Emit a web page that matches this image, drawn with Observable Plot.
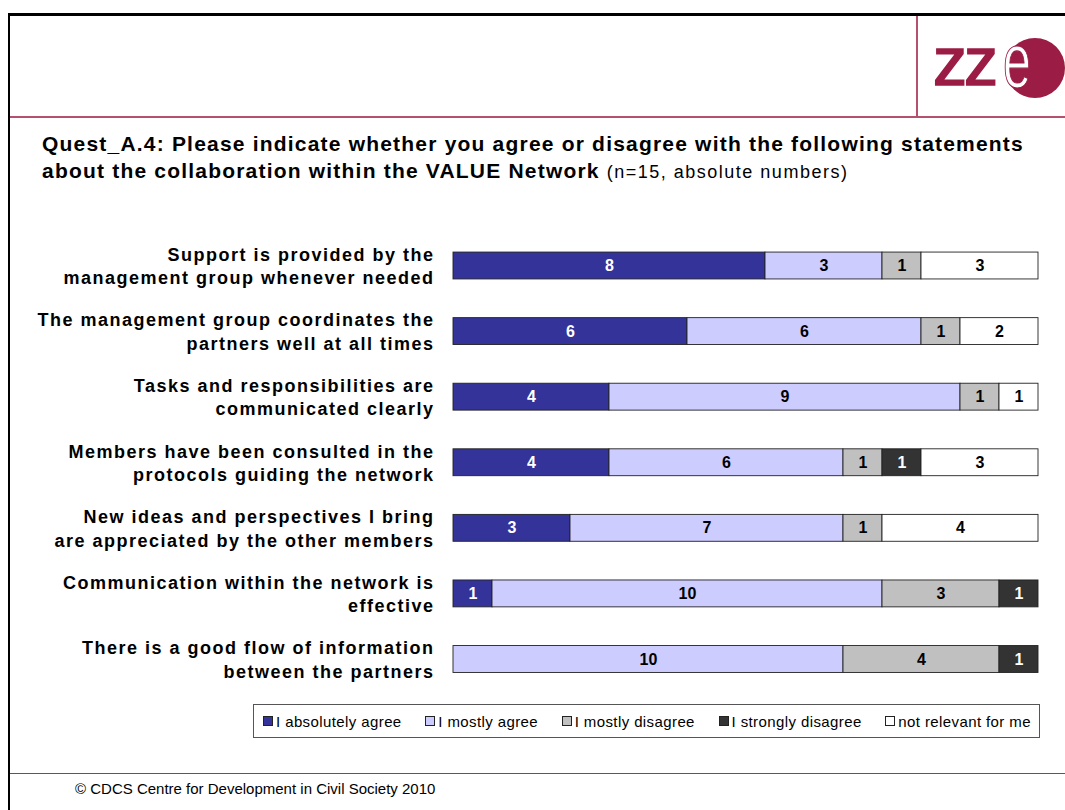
<!DOCTYPE html>
<html>
<head>
<meta charset="utf-8">
<script src="https://cdn.jsdelivr.net/npm/d3@7"></script>
<script src="https://cdn.jsdelivr.net/npm/@observablehq/plot@0.6"></script>
<style>
  html, body { margin: 0; padding: 0; background: #fff; }
  body { width: 1065px; height: 810px; position: relative; overflow: hidden; font-family: "Liberation Sans", Arial, sans-serif; color: #000; }
  .abs { position: absolute; }
  #title { left: 42px; top: 130px; font-size: 21px; letter-spacing: 1.2px; font-weight: bold; line-height: 27px; white-space: nowrap; }
  #title .sub { font-weight: normal; font-size: 18px; letter-spacing: 1.5px; }
  #chart { left: 0; top: 230px; }
  #chart svg g[aria-label="y-axis tick label"] text { letter-spacing: 1.5px; }
  #legend { left: 253px; top: 704px; width: 787px; height: 34px; border: 1px solid #555; box-sizing: border-box; display: flex; align-items: center; justify-content: space-between; padding: 0 8px 0 9px; font-size: 15px; letter-spacing: 0.4px; }
  #legend .item { display: flex; align-items: center; white-space: nowrap; }
  #legend .sw { width: 8px; height: 8px; border: 1px solid #222; margin-right: 3px; }
  #footer { left: 75px; top: 780px; font-size: 15px; }
</style>
</head>
<body>
<!-- frame -->
<div class="abs" style="left:8px;top:13px;width:1057px;height:3px;background:#000"></div>
<div class="abs" style="left:8px;top:13px;width:2px;height:797px;background:#000"></div>
<div class="abs" style="left:10px;top:116px;width:1055px;height:2px;background:#b5516f"></div>
<div class="abs" style="left:916px;top:16px;width:2px;height:101px;background:#b5516f"></div>
<div class="abs" style="left:10px;top:773px;width:1055px;height:1px;background:#a8324f"></div>
<!-- logo -->
<svg class="abs" style="left:920px;top:18px" width="145" height="96" viewBox="920 18 145 96">
  <circle cx="1035" cy="68" r="30" fill="#9b1c45"></circle>
  <text x="933" y="85" font-family="Liberation Sans, Arial" font-size="68" fill="#9b1c45" stroke="#9b1c45" stroke-width="1.6" letter-spacing="-3">zz</text>
  <g transform="translate(1003,87) scale(0.66,1)">
    <text x="0" y="0" font-family="Liberation Sans, Arial" font-size="76" fill="#fff" stroke="#9b1c45" stroke-width="1.2">e</text>
  </g>
</svg>

<div id="title" class="abs">Quest_A.4: Please indicate whether you agree or disagree with the following statements<br>about the collaboration within the VALUE Network <span class="sub">(n=15, absolute numbers)</span></div>
<div id="chart" class="abs"></div>
<div id="legend" class="abs"></div>
<div id="footer" class="abs">© CDCS Centre for Development in Civil Society 2010</div>

<script>
const statements = [
  "Support is provided by the\nmanagement group whenever needed",
  "The management group coordinates the\npartners well at all times",
  "Tasks and responsibilities are\ncommunicated clearly",
  "Members have been consulted in the\nprotocols guiding the network",
  "New ideas and perspectives I bring\nare appreciated by the other members",
  "Communication within the network is\neffective",
  "There is a good flow of information\nbetween the partners"
];
const responses = ["I absolutely agree", "I mostly agree", "I mostly disagree", "I strongly disagree", "not relevant for me"];
const absolutelyAgree  = [8, 6, 4, 4, 3, 1, 0];
const mostlyAgree      = [3, 6, 9, 6, 7, 10, 10];
const mostlyDisagree   = [1, 1, 1, 1, 1, 3, 4];
const stronglyDisagree = [0, 0, 0, 1, 0, 1, 1];
const notRelevant      = [3, 2, 1, 3, 4, 0, 0];
const colors = ["#333399", "#ccccff", "#c0c0c0", "#333333", "#ffffff"];
const textColors = ["#fff", "#000", "#000", "#fff", "#000"];

const series = [absolutelyAgree, mostlyAgree, mostlyDisagree, stronglyDisagree, notRelevant];
const data = [];
statements.forEach((s, i) => {
  series.forEach((vals, j) => {
    if (vals[i] > 0) data.push({statement: s, response: responses[j], value: vals[i], tc: textColors[j]});
  });
});

const chart = Plot.plot({
  width: 1065,
  height: 454,
  marginLeft: 453,
  marginRight: 27,
  marginTop: 15.5,
  marginBottom: 5,
  style: {fontFamily: "Liberation Sans, Arial, sans-serif", background: "transparent"},
  x: {domain: [0, 15], axis: null},
  y: {domain: statements, paddingInner: 0.59, paddingOuter: 0.1, round: false, label: null},
  color: {domain: responses, range: colors},
  marks: [
    Plot.barX(data, Plot.stackX({x: "value", y: "statement", fill: "response", stroke: "#222", strokeWidth: 0.9})),
    Plot.text(data, Plot.stackX({x: "value", y: "statement", text: d => String(d.value), fill: "tc", fontSize: 16, fontWeight: "bold"})),
    Plot.axisY({tickSize: 0, tickPadding: 19, fontSize: 18, fontWeight: "bold", lineHeight: 1.3, fill: "#000", label: null, dy: -1})
  ]
});
document.getElementById("chart").appendChild(chart);

const legend = document.getElementById("legend");
responses.forEach((r, j) => {
  const item = document.createElement("div");
  item.className = "item";
  const sw = document.createElement("span");
  sw.className = "sw";
  sw.style.background = colors[j];
  item.appendChild(sw);
  item.appendChild(document.createTextNode(r));
  legend.appendChild(item);
});
</script>
</body>
</html>
